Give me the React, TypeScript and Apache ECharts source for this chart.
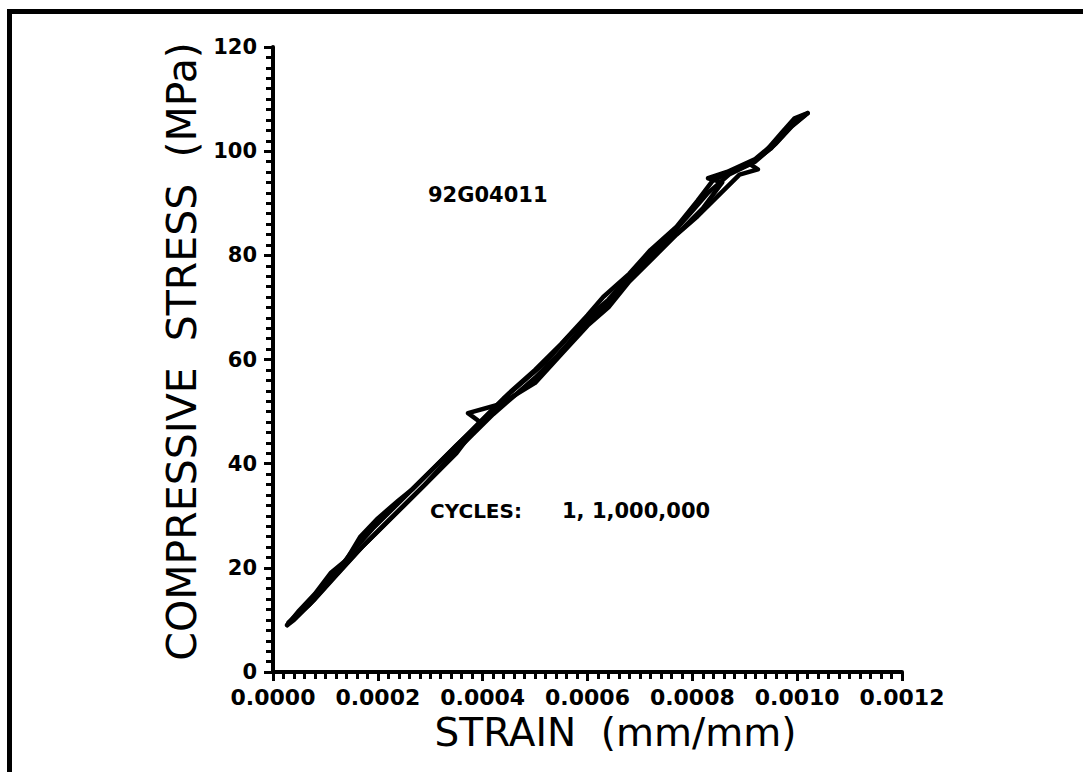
import React, { useEffect, useRef } from "react";
import * as echarts from "echarts";

// strain (mm/mm), stress (MPa)
const cycle1Load: [number, number][] = [
  [0.000027, 9], [0.00005, 11.8], [0.00008, 15], [0.00011, 19], [0.00014, 21.5],
  [0.000166, 25.9], [0.0002, 29.5], [0.00024, 33], [0.000267, 35.2], [0.00031, 39.5],
  [0.00035, 43.5], [0.000382, 46.6], [0.00042, 50.5], [0.00045, 53.5], [0.0005, 58],
  [0.00055, 63], [0.0006, 68.5], [0.00063, 72], [0.00068, 76.5], [0.00072, 81],
  [0.00077, 85.5], [0.00081, 90.5], [0.00084, 94.5], [0.00088, 96.2], [0.00092, 98],
  [0.00096, 101.5], [0.00099, 104.8], [0.00102, 107.3],
];
const cycle1Unload: [number, number][] = [
  [0.00102, 107.3], [0.000995, 106.3], [0.00097, 103.5], [0.00094, 100], [0.00091, 97.5],
  [0.000925, 96.5], [0.00089, 95.5], [0.00085, 91.5], [0.00081, 87.5], [0.00077, 84],
  [0.00073, 80], [0.00068, 75], [0.00064, 70], [0.0006, 66.5], [0.00055, 61],
  [0.0005, 55.5], [0.000433, 51.4], [0.000372, 49.7], [0.000395, 48], [0.00035, 42],
  [0.0003, 37], [0.00026, 33], [0.00022, 29], [0.00017, 24], [0.00012, 18.5],
  [0.00008, 14], [0.00004, 10], [0.000027, 9],
];
const cycleMLoad: [number, number][] = [
  [0.00003, 9.5], [0.00006, 12.5], [0.00009, 16], [0.00012, 19], [0.00015, 23],
  [0.00019, 27.5], [0.00023, 31.5], [0.00028, 36.5], [0.00032, 40.5], [0.00036, 44.5],
  [0.0004, 48.5], [0.00044, 52.5], [0.00048, 56], [0.00052, 59.5], [0.00056, 64],
  [0.0006, 68], [0.00064, 71.5], [0.00068, 76], [0.00072, 80], [0.00076, 84],
  [0.0008, 88.5], [0.00083, 92], [0.00087, 95.5], [0.00091, 97.5], [0.00095, 100.5],
  [0.00099, 105], [0.001015, 107],
];
const cycleMUnload: [number, number][] = [
  [0.001015, 107], [0.00098, 104], [0.00095, 101], [0.00092, 98.5], [0.000866, 96],
  [0.00083, 94.8], [0.000857, 94], [0.00082, 89], [0.00078, 85], [0.00074, 81.5],
  [0.0007, 78], [0.00066, 73], [0.00062, 69], [0.00058, 65], [0.00054, 60.5],
  [0.0005, 56.5], [0.00046, 53], [0.00042, 49.5], [0.00038, 45.5], [0.00034, 41.5],
  [0.00029, 36], [0.00025, 32], [0.00021, 28], [0.00016, 23], [0.00011, 17.5],
  [0.00007, 13], [0.00003, 9.5],
];

const xTicks = { min: 0, max: 0.0012, interval: 0.0002 };
const yTicks = { min: 0, max: 120, interval: 20 };
const specimenId = "92G04011";
const cyclesLabel = "CYCLES:";
const cyclesValue = "1, 1,000,000";
const xName = "STRAIN  (mm/mm)";
const yName = "COMPRESSIVE  STRESS  (MPa)";

export default function App() {
  const ref = useRef<HTMLDivElement>(null);
  useEffect(() => {
    if (!ref.current) return;
    const chart = echarts.init(ref.current, undefined, { renderer: "svg" });
    const line = (data: [number, number][]) => ({
      type: "line",
      data,
      showSymbol: false,
      symbol: "none",
      lineStyle: { color: "#000", width: 4.5, join: "round", cap: "round" },
      z: 3,
    });
    const tickLabel = {
      color: "#000",
      fontFamily: "DejaVu Sans",
      fontWeight: "bold" as const,
    };
    chart.setOption({
      animation: false,
      backgroundColor: "#fff",
      grid: { left: 273, top: 47, width: 629, height: 625 },
      xAxis: {
        type: "value",
        ...xTicks,
        name: xName,
        nameLocation: "middle",
        nameGap: 40,
        nameTextStyle: {
          color: "#000",
          fontFamily: "DejaVu Sans",
          fontSize: 39,
          padding: [0, 0, 0, 56],
        },
        axisLine: { show: true, lineStyle: { color: "#000", width: 4 } },
        axisTick: { show: true, length: 9, lineStyle: { color: "#000", width: 3 } },
        minorTick: { show: true, splitNumber: 10, length: 7, lineStyle: { color: "#000", width: 3 } },
        splitLine: { show: false },
        axisLabel: { ...tickLabel, fontSize: 22, margin: 14, formatter: (v: number) => v.toFixed(4) },
      },
      yAxis: {
        type: "value",
        ...yTicks,
        name: yName,
        nameLocation: "middle",
        nameRotate: 90,
        nameGap: 32,
        nameTextStyle: {
          color: "#000",
          fontFamily: "DejaVu Sans",
          fontSize: 41,
          padding: [0, 0, 0, 16],
        },
        axisLine: { show: true, lineStyle: { color: "#000", width: 4 } },
        axisTick: { show: true, length: 9, lineStyle: { color: "#000", width: 3 } },
        minorTick: { show: true, splitNumber: 10, length: 7, lineStyle: { color: "#000", width: 3 } },
        splitLine: { show: false },
        axisLabel: { ...tickLabel, fontSize: 21, margin: 16 },
      },
      series: [line(cycle1Load), line(cycle1Unload), line(cycleMLoad), line(cycleMUnload)],
      graphic: [
        { type: "line", shape: { x1: 7, y1: 11.5, x2: 1083, y2: 11.5 }, style: { stroke: "#000", lineWidth: 5 } },
        { type: "line", shape: { x1: 9.5, y1: 9, x2: 9.5, y2: 772 }, style: { stroke: "#000", lineWidth: 5 } },
        {
          type: "text", left: 428, top: 184,
          style: { text: specimenId, fill: "#000", font: "bold 21px 'DejaVu Sans'" },
        },
        {
          type: "text", left: 430, top: 501,
          style: { text: cyclesLabel, fill: "#000", font: "bold 20px 'DejaVu Sans'" },
        },
        {
          type: "text", left: 562, top: 500,
          style: { text: cyclesValue, fill: "#000", font: "bold 21px 'DejaVu Sans'" },
        },
      ],
    });
    return () => chart.dispose();
  }, []);
  return (
    <div
      ref={ref}
      style={{ position: "fixed", left: 0, top: 0, width: 1083, height: 772, background: "#fff" }}
    />
  );
}
